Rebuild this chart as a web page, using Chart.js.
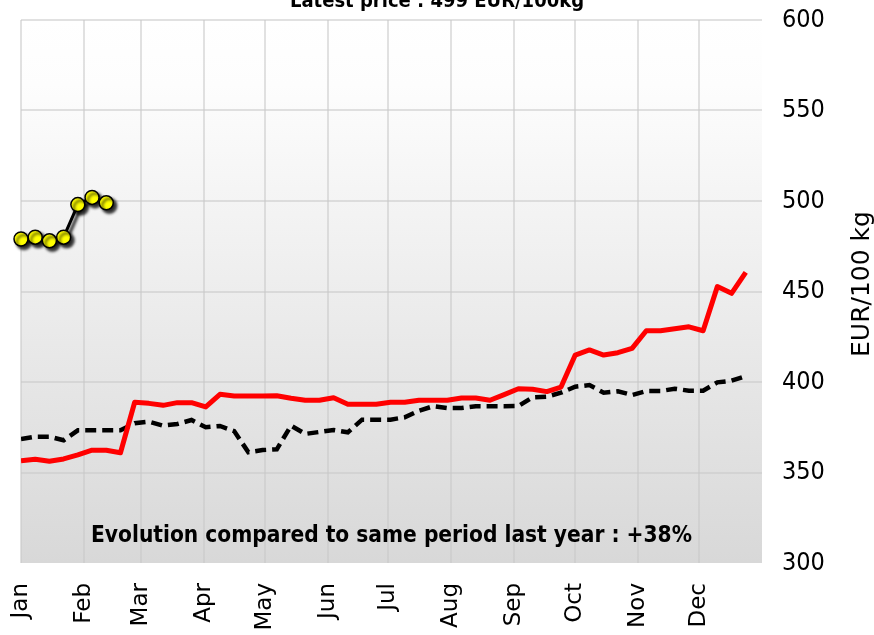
<!DOCTYPE html>
<html>
<head>
<meta charset="utf-8">
<script src="https://cdn.jsdelivr.net/npm/chart.js@4.4.1/dist/chart.umd.min.js"></script>
<style>
html,body{margin:0;padding:0;background:#ffffff;}
#wrap{width:874px;height:635px;position:relative;}
</style>
</head>
<body>
<div id="wrap"><canvas id="c" width="874" height="635"></canvas></div>
<script>
// ---- data ----
const monthLabels = ['Jan','Feb','Mar','Apr','May','Jun','Jul','Aug','Sep','Oct','Nov','Dec'];
const monthStartDays = [0,31,59,90,120,151,181,212,243,273,304,334];
const yTicks = [300,350,400,450,500,550,600];

// current year (weekly, EUR/100kg)
const currentYear = [479,480,478,480,498,502,499];
// same period last year (weekly)
const lastYear = [356.5,357.3,356.2,357.5,359.7,362.3,362.3,360.9,388.8,388.2,
  387.1,388.6,388.6,386.2,393.2,392.3,392.3,392.3,392.4,391.0,
  389.9,389.9,391.3,387.7,387.7,387.7,388.8,388.8,389.9,389.9,
  389.9,391.2,391.2,389.9,393.0,396.3,396.0,394.7,397.2,414.9,
  417.7,414.9,416.2,418.6,428.3,428.3,429.4,430.5,428.3,452.7,
  449.0,460.6];
// two years ago (weekly)
const twoYearsAgo = [368.5,369.8,369.8,367.8,373.3,373.3,373.3,373.3,377.2,378.1,
  375.9,376.8,379.0,375.0,375.7,372.9,361.2,362.4,362.8,375.9,
  371.3,372.4,373.5,372.2,379.2,379.2,379.2,380.5,384.1,386.6,
  385.6,385.6,386.6,386.6,386.6,386.7,391.5,391.9,394.1,397.4,
  398.3,394.1,394.9,392.8,395.0,395.0,396.3,395.2,395.2,399.8,
  400.7,403.3];

const titleText = 'Latest price : 499 EUR/100kg';
const noteText = 'Evolution compared to same period last year : +38%';
const yAxisTitle = 'EUR/100 kg';
const daysPerWeek = 7;

const toPoints = arr => arr.map((v, i) => ({ x: i * daysPerWeek, y: v }));

const gridColor = 'rgba(200,200,200,0.55)';

const decorPlugin = {
  id: 'decor',
  beforeDraw(chart) {
    const { ctx, chartArea: a } = chart;
    ctx.save();
    ctx.fillStyle = '#ffffff';
    ctx.fillRect(0, 0, chart.width, chart.height);
    const g = ctx.createLinearGradient(0, a.top, 0, a.bottom);
    g.addColorStop(0, '#ffffff');
    g.addColorStop(0.12, '#fdfdfd');
    g.addColorStop(1, '#d8d8d8');
    ctx.fillStyle = g;
    ctx.fillRect(a.left, a.top, a.right - a.left, a.bottom - a.top);
    ctx.restore();
  },
  beforeDatasetDraw(chart, args) {
    if (args.index === 0) {
      const ctx = chart.ctx;
      ctx.save();
      ctx.shadowColor = 'rgba(0,0,0,0.85)';
      ctx.shadowOffsetX = 3;
      ctx.shadowOffsetY = 3;
      ctx.shadowBlur = 3;
    }
  },
  afterDatasetDraw(chart, args) {
    if (args.index === 0) chart.ctx.restore();
  },
  afterDraw(chart) {
    const { ctx, chartArea: a } = chart;
    ctx.save();
    ctx.fillStyle = '#000000';
    ctx.textAlign = 'center';
    ctx.textBaseline = 'alphabetic';
    ctx.font = 'bold 20px "DejaVu Sans Condensed"';
    ctx.fillText(titleText, chart.width / 2, 7);
    ctx.font = 'bold 22.5px "DejaVu Sans Condensed"';
    ctx.fillText(noteText, (a.left + a.right) / 2, 542);
    ctx.font = '25px "DejaVu Sans"';
    ctx.textBaseline = 'middle';
    ctx.translate(862, 284);
    ctx.rotate(-Math.PI / 2);
    ctx.fillText(yAxisTitle, 0, 0);
    ctx.restore();
  }
};

new Chart(document.getElementById('c'), {
  type: 'line',
  data: {
    datasets: [
      {
        label: 'Current year',
        data: toPoints(currentYear),
        borderColor: '#000000',
        borderWidth: 3,
        pointRadius: 7,
        pointBackgroundColor: '#ffff00',
        pointBorderColor: '#000000',
        pointBorderWidth: 1.5,
        tension: 0,
        clip: false
      },
      {
        label: 'Last year',
        data: toPoints(lastYear),
        borderColor: '#ff0000',
        borderWidth: 5,
        pointRadius: 0,
        tension: 0,
        borderJoinStyle: 'round'
      },
      {
        label: 'Two years ago',
        data: toPoints(twoYearsAgo),
        borderColor: '#000000',
        borderWidth: 4.5,
        borderDash: [11, 6],
        pointRadius: 0,
        tension: 0
      }
    ]
  },
  options: {
    responsive: false,
    animation: false,
    devicePixelRatio: 1,
    layout: { padding: { left: 21, top: 20, right: 0, bottom: 0 } },
    plugins: { legend: { display: false }, tooltip: { enabled: false }, title: { display: false } },
    scales: {
      x: {
        type: 'linear',
        min: 0,
        max: 365,
        afterBuildTicks: s => { s.ticks = monthStartDays.map(v => ({ value: v })); },
        afterFit: s => { s.height = 72; s.paddingLeft = 0; s.paddingRight = 0; },
        ticks: {
          autoSkip: false,
          minRotation: 90,
          maxRotation: 90,
          padding: 20,
          color: '#000000',
          font: { family: 'DejaVu Sans', size: 23 },
          callback: v => monthLabels[monthStartDays.indexOf(v)]
        },
        grid: { color: gridColor, lineWidth: 2, drawTicks: false },
        border: { display: false }
      },
      y: {
        position: 'right',
        min: 300,
        max: 600,
        afterBuildTicks: s => { s.ticks = yTicks.map(v => ({ value: v })); },
        afterFit: s => { s.width = 112; s.paddingTop = 0; s.paddingBottom = 0; },
        ticks: {
          padding: 20,
          color: '#000000',
          font: { family: 'DejaVu Sans Condensed', size: 25 }
        },
        grid: {
          color: c => (c.tick && c.tick.value === 300) ? 'rgba(0,0,0,0)' : gridColor,
          lineWidth: 2,
          drawTicks: false
        },
        border: { display: false }
      }
    }
  },
  plugins: [decorPlugin]
});
</script>
</body>
</html>
